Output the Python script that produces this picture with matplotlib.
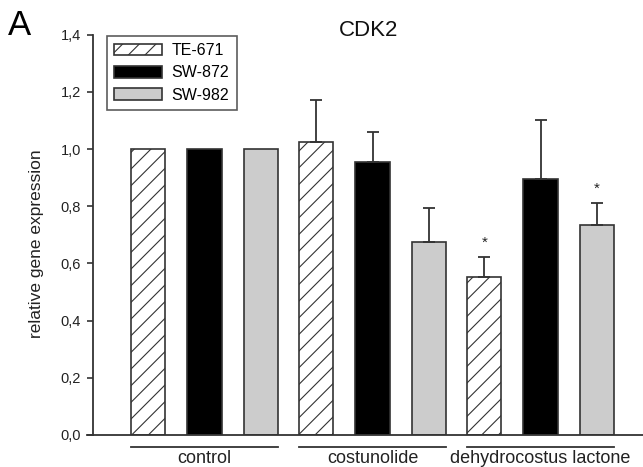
import matplotlib
matplotlib.use("Agg")
import matplotlib.pyplot as plt
import matplotlib.transforms as mtransforms
from matplotlib.lines import Line2D
import numpy as np

plt.rcParams['font.family'] = ['Liberation Sans', 'DejaVu Sans']
plt.rcParams['hatch.linewidth'] = 0.8
plt.rcParams['hatch.color'] = '#333333'

groups = ["control", "costunolide", "dehydrocostus lactone"]
series = ["TE-671", "SW-872", "SW-982"]
values = {
    "TE-671": [1.0, 1.026, 0.551],
    "SW-872": [1.0, 0.956, 0.894],
    "SW-982": [1.0, 0.674, 0.733],
}
errors = {
    "TE-671": [0.0, 0.147, 0.070],
    "SW-872": [0.0, 0.105, 0.209],
    "SW-982": [0.0, 0.121, 0.077],
}
stars = {
    "TE-671": [False, False, True],
    "SW-872": [False, False, False],
    "SW-982": [False, False, True],
}
yticks = [0.0, 0.2, 0.4, 0.6, 0.8, 1.0, 1.2, 1.4]
ytick_labels = ["0,0", "0,2", "0,4", "0,6", "0,8", "1,0", "1,2", "1,4"]

W, H = 643, 467
fig = plt.figure(figsize=(W/100, H/100), dpi=100)
ax_left, ax_bottom, ax_w, ax_h = 93, 435, 550, 400.4
ax = fig.add_axes([ax_left/W, (H-ax_bottom)/H, ax_w/W, ax_h/H])

styles = {
    "TE-671": dict(facecolor="white", hatch="//", edgecolor="#333333"),
    "SW-872": dict(facecolor="black", edgecolor="#333333"),
    "SW-982": dict(facecolor="#cccccc", edgecolor="#333333"),
}
offsets = [-0.335, 0, 0.335]
width = 0.205
x = np.arange(len(groups))
for s, off in zip(series, offsets):
    ax.bar(x + off, values[s], width, label=s, linewidth=1.2, **styles[s])
    for xi, v, e, st in zip(x + off, values[s], errors[s], stars[s]):
        if e > 0:
            ax.errorbar([xi], [v], yerr=[[0], [e]], fmt='none', ecolor="#333333",
                        elinewidth=1.3, capsize=4.3, capthick=1.3)
        if st:
            ax.text(xi, v + e + 0.028, "*", ha="center", va="bottom", fontsize=11,
                    color="#222222")

ax.set_xlim(-0.6637, 2.610)
ax.set_ylim(0, 1.4)
ax.set_yticks(yticks)
ax.set_yticklabels(ytick_labels, fontsize=10.5, color="#222222")
ax.set_xticks([])
for sp in ["top", "right"]:
    ax.spines[sp].set_visible(False)
for sp in ["left", "bottom"]:
    ax.spines[sp].set_color("#333333")
    ax.spines[sp].set_linewidth(1.3)
ax.tick_params(axis="y", length=4.5, width=1.2, color="#333333", pad=4)
ax.add_line(Line2D([-6/ax_w, 0], [0, 0], transform=ax.transAxes, color="#333333",
                   lw=1.3, clip_on=False))

fig.text(37/W, 1 - 244/H, "relative gene expression", rotation=90, fontsize=12.5,
         ha="center", va="center", color="#222222")
fig.text(369/W, 1 - 36/H, "CDK2", fontsize=16, ha="center", va="baseline",
         color="#111111")

trans = mtransforms.blended_transform_factory(ax.transData, ax.transAxes)
for gi, g in enumerate(groups):
    x0 = gi - 0.335 - width/2
    x1 = gi + 0.335 + width/2
    ax.add_line(Line2D([x0, x1], [-0.030, -0.030], transform=trans, color="#333333",
                       lw=1.3, clip_on=False))
    ax.text(gi, -0.070, g, transform=trans, ha="center", va="baseline", fontsize=13,
            color="#222222")

leg = ax.legend(loc="upper left", bbox_to_anchor=(14/ax_w, 0.9965), fontsize=11.5,
                frameon=True, fancybox=False, edgecolor="#333333",
                handlelength=3.0, handleheight=0.75, borderpad=0.45, labelspacing=0.45,
                handletextpad=0.6, borderaxespad=0)
leg.get_frame().set_linewidth(1.2)

fig.text(8/W, 1 - 35/H, "A", fontsize=25, ha="left", va="baseline")

fig.savefig("out.png", dpi=100)
